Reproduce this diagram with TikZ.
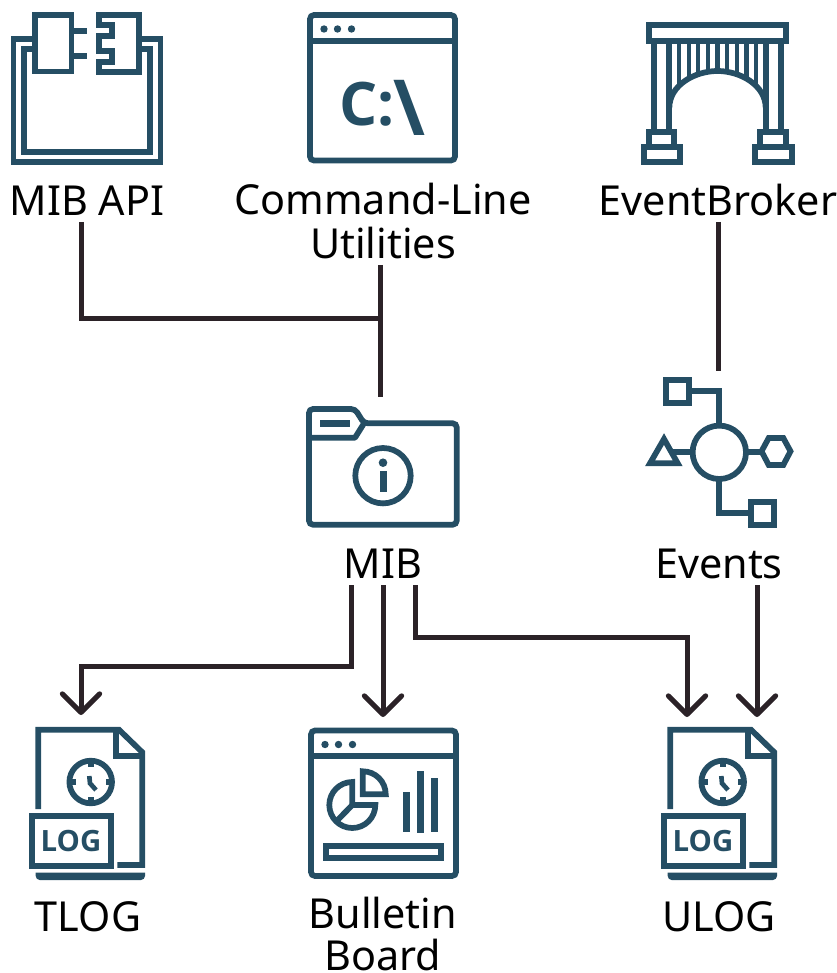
\documentclass[tikz,border=0pt]{standalone}
\usepackage{fontspec}
\setmainfont{Noto Sans}
\newfontfamily\iconbold{Open Sans}[UprightFont=* Bold]
\usepackage{tikz}
\usetikzlibrary{arrows.meta}
\definecolor{iconblue}{RGB}{37,78,100}
\definecolor{linkdark}{RGB}{43,34,39}
\tikzset{
  icon/.style={draw=iconblue,line width=4.3pt},
  label/.style={anchor=south,inner sep=0pt,align=center,text=black,text depth=4.5pt,
    font=\fontsize{31}{33}\selectfont},
  link/.style={draw=linkdark,line width=3.75pt},
  linkto/.style={link,-{Straight Barb[length=14pt,width=28pt,round]}},
  window/.pic={
    \draw [icon,rounded corners=3pt] (0,0) rectangle (145,145.5);
    \draw [icon] (0,25.7) -- (145,25.7);
    \foreach \dotx in {14,27.5,41.5} {\fill [iconblue] (\dotx,14) circle [radius=3.7];}
  },
  logfile/.pic={
    \draw [icon,miter limit=4] (38.3,809) -- (38.3,729.7) -- (119,729.7) -- (142.3,752.3) -- (142.3,865) -- (117.3,865);
    \draw [icon] (116,730) -- (116,755.7) -- (142.3,755.7);
    \fill [iconblue] (35.7,872.5) -- (145,872.5) {[rounded corners=3pt] -- (145,880) -- (35.7,880)} -- cycle;
    \draw [icon] (90.7,782) circle [radius=21.3];
    \foreach \tickx/\ticky in {0/-1,0/1,-1/0,1/0} {\draw [icon] (90.7+21*\tickx,782+21*\ticky) -- (90.7+15*\tickx,782+15*\ticky);}
    \draw [icon,line width=3.5pt] (89.3,776) -- (90,783.3) -- (96,790);
    \draw [icon] (32,816) rectangle (110.7,865.7);
    \node (text) at (71,841) [inner sep=0pt,text=iconblue,font=\fontsize{22}{22}\iconbold] {LOG};
  }
}
\begin{document}
\begin{tikzpicture}[x=0.75pt,y=0.75pt,yscale=-1,xscale=1]
\useasboundingbox (0,0) rectangle (837,973);
% MIB API icon
\draw [icon] (35,15) rectangle (71.5,71.5);
\draw [icon] (74,30.7) -- (87,30.7);
\draw [icon] (74,55.7) -- (87,55.7);
\draw [icon] (98.7,15) -- (139,15) -- (139,71.7) -- (98.7,71.7) -- (98.7,61.7) -- (111.7,61.7) -- (111.7,50.7) -- (98.7,50.7) -- (98.7,35.7) -- (111.7,35.7) -- (111.7,25) -- (98.7,25) -- cycle;
\draw [icon] (32,39) -- (13.5,39) -- (13.5,161.7) -- (160.5,161.7) -- (160.5,39) -- (142,39);
\draw [icon] (32,48.7) -- (23.7,48.7) -- (23.7,151.8) -- (150.3,151.8) -- (150.3,48.7) -- (142,48.7);
% Command-line icon
\pic [yscale=-1] at (310,15) {window};
\node (cprompt) at (367,104) [inner sep=0pt,text=iconblue,font=\fontsize{45}{45}\iconbold] {C:};
\node (bslash) at (409.5,107.5) [inner sep=0pt,text=iconblue,font=\fontsize{58}{58}\iconbold] {\textbackslash};
% EventBroker icon
\draw [icon] (649.3,25) rectangle (785.8,41);
\foreach \barx in {654.3,669.3,765.7,780.7} {\draw [icon] (\barx,41) -- (\barx,131);}
\draw [icon] (649,131.7) rectangle (674.3,147);
\draw [icon] (643.7,147) rectangle (680,162);
\draw [icon] (760,131.7) rectangle (786,147);
\draw [icon] (755,147) rectangle (791.7,162);
\draw [icon] (669.3,108) .. controls (669.3,85) and (695,71) .. (717.5,71) .. controls (740,71) and (765.7,85) .. (765.7,108);
\foreach \hangx/\hangy in {679/85,688.7/79,698/75,707.7/72,717.3/71,726.7/72,736.7/75,746.3/79,756/85} {\draw [icon,line width=3.3pt] (\hangx,41) -- (\hangx,\hangy);}
% MIB icon
\draw [icon,rounded corners=3pt] (309,438) -- (309,409) -- (355,409) -- (364,423.3) -- (456.7,423.3) -- (456.7,524.7) -- (309,524.7) -- cycle;
\draw [icon,line join=round] (364,423.3) -- (355,437.7) -- (309,437.7);
\fill [iconblue] (320,420) rectangle (350,426.7);
\draw [icon] (383,475.7) circle [radius=27.7];
\fill [iconblue] (383,462.7) circle [radius=4.3];
\fill [iconblue] (379.7,470.7) rectangle (387,492);
% Events icon
\draw [icon] (666,380) rectangle (689,403);
\draw [icon] (689,391) -- (719.3,391) -- (719.3,426);
\draw [icon] (719.3,452.3) circle [radius=26.7];
\draw [icon] (719.3,479) -- (719.3,512.7) -- (751,512.7);
\draw [icon] (751,501.7) rectangle (774,524.7);
\draw [icon] (664,439) -- (677.7,463.3) -- (650,463.3) -- cycle;
\draw [icon] (670,452.3) -- (693,452.3);
\draw [icon] (790.5,451.3) -- (783.3,438) -- (768.7,438) -- (761.5,451.3) -- (768.7,465) -- (783.3,465) -- cycle;
\draw [icon] (746,452.3) -- (761.5,452.3);
% log files
\pic (tlogicon) [yscale=-1] at (0,0) {logfile};
\pic (ulogicon) [yscale=-1] at (632,0) {logfile};
% Bulletin board icon
\pic [yscale=-1] at (311,730.5) {window};
\draw [icon] (352.3,782) arc [start angle=270,end angle=0,radius=23] -- (352.3,805) -- cycle;
\draw [icon] (352.3,805) -- (336.7,821);
\draw [icon] (362.7,794.3) -- (362.7,771.3) arc [start angle=270,end angle=360,radius=23] -- cycle;
\fill [iconblue] (403.3,791.7) rectangle (410,832.3);
\fill [iconblue] (417,771) rectangle (424.3,833);
\fill [iconblue] (431,777.7) rectangle (438.3,832.3);
\draw [icon] (325.7,846) rectangle (441,858);
% labels
\node (mibapi) at (87,222) [label] {MIB API};
\node (cmdline) at (383,265) [label] {Command-Line\\Utilities};
\node (broker) at (718,222) [label] {EventBroker};
\node (mib) at (383,585) [label] {MIB};
\node (events) at (719,585) [label] {Events};
\node (tlog) at (88,938) [label] {TLOG};
\node (bboard) at (383,973) [label,text depth=2pt] {Bulletin\\[-1.5pt]Board};
\node (ulog) at (719,938) [label] {ULOG};
% connectors
\coordinate (apijoin) at (380,318);
\coordinate (mibtop) at (380,397);
\coordinate (eventstop) at (718,371);
\coordinate (tlogtop) at (81,715);
\coordinate (bboardtop) at (383,717);
\coordinate (ulogleft) at (687,717);
\coordinate (ulogright) at (757,717);
\draw [link] (mibapi.south) ++(-6,0) |- (apijoin);
\draw [link] (cmdline.south) ++(-3,0) -- (mibtop);
\draw [link] (broker.south) -- (eventstop);
\draw [linkto] (mib.south) ++(-32,0) -- ++(0,81) -| (tlogtop);
\draw [linkto] (mib.south) -- (bboardtop);
\draw [linkto] (mib.south) ++(32,0) -- ++(0,52) -| (ulogleft);
\draw [linkto] (events.south) ++(38,0) -- (ulogright);
\end{tikzpicture}
\end{document}
